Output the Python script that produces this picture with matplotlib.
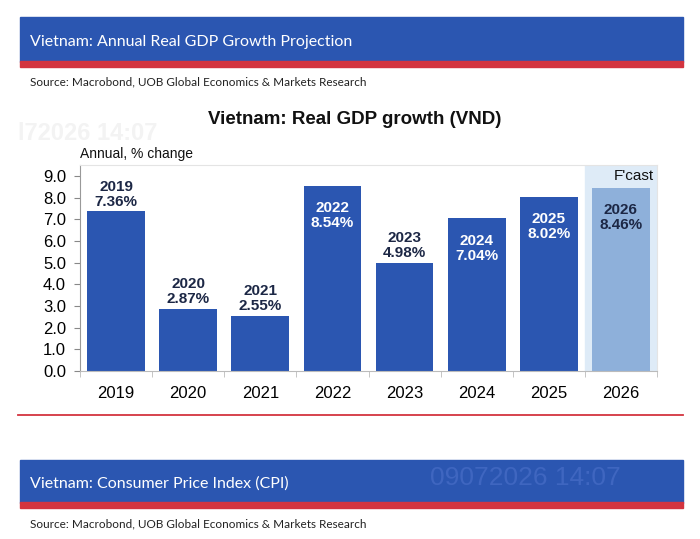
import numpy as np
import matplotlib.pyplot as plt
from matplotlib.patches import Rectangle

years = ["2019", "2020", "2021", "2022", "2023", "2024", "2025", "2026"]
growth = [7.36, 2.87, 2.55, 8.54, 4.98, 7.04, 8.02, 8.46]
label_inside = [False, False, False, True, False, True, True, True]
forecast = [False, False, False, False, False, False, False, True]

BLUE = "#2b56b1"
LIGHT = "#8eb0da"
BAND = "#deebf7"
NAVY = "#1c2745"
RED = "#d3343f"

plt.rcParams['font.family'] = ['Liberation Sans', 'DejaVu Sans']

fig = plt.figure(figsize=(7, 5.39), dpi=100)
fig.patch.set_facecolor("white")

# header banners
def banner(y0, y1, text):
    fig.add_artist(Rectangle((20/700, 1 - y1/539), 663/700, (y1 - y0)/539,
                             transform=fig.transFigure, color=BLUE, zorder=0))
    fig.add_artist(Rectangle((20/700, 1 - (y1 + 5)/539), 663/700, 6/539,
                             transform=fig.transFigure, color=RED, zorder=0))
    fig.text(30/700, 1 - (y0 + (y1 - y0) * 0.55)/539, text, color="white",
             fontsize=11.5, family="Lato", va="center", ha="left")

banner(17, 62, "Vietnam: Annual Real GDP Growth Projection")
fig.text(30/700, 1 - 82/539, "Source: Macrobond, UOB Global Economics & Markets Research",
         fontsize=8.5, family="Lato", color="#222222", va="center")

banner(460, 503, "Vietnam: Consumer Price Index (CPI)")
fig.text(30/700, 1 - 524/539, "Source: Macrobond, UOB Global Economics & Markets Research",
         fontsize=8.5, family="Lato", color="#222222", va="center")
# faint watermarks
fig.text(525/700, 1 - 478/539, "09072026 14:07", fontsize=19, color="#3f66c0",
         ha="center", va="center", zorder=1)
fig.text(18/700, 1 - 133/539, "l72026 14:07", fontsize=17, color="#f3f3f3",
         ha="left", va="center", weight="bold", zorder=0)

# red separator line
fig.add_artist(plt.Line2D([18/700, 683/700], [1 - 415/539, 1 - 415/539],
                          transform=fig.transFigure, color=RED, lw=1.3))

# chart
ax = fig.add_axes([80/700, 1 - 371/539, 577/700, 206/539])
ax.patch.set_alpha(0)
x = np.arange(len(years))
colors = [LIGHT if f else BLUE for f in forecast]
ax.axvspan(6.5, 7.5, color=BAND, zorder=0)
ax.bar(x, growth, width=0.8, color=colors, zorder=2)

for i, (yr, v) in enumerate(zip(years, growth)):
    txt = f"{yr}\n{v:.2f}%"
    if label_inside[i]:
        col = NAVY if forecast[i] else "white"
        ax.annotate(txt, (i, v), xytext=(0, -11), textcoords="offset points",
                    ha="center", va="top", fontsize=11, weight="bold",
                    color=col, linespacing=1.1, zorder=3)
    else:
        ax.annotate(txt, (i, v), xytext=(0, 2), textcoords="offset points",
                    ha="center", va="bottom", fontsize=11, weight="bold",
                    color=NAVY, linespacing=1.1, zorder=3)

ax.text(7.45, 9.3, "F'cast", ha="right", va="top", fontsize=11, color="#111111")

ax.set_xlim(-0.5, 7.5)
ax.set_ylim(0, 9.5)
ax.set_yticks(np.arange(0, 10, 1))
ax.set_yticklabels([f"{t:.1f}" for t in np.arange(0, 10, 1)], fontsize=12)
ax.set_xticks(x)
ax.set_xticklabels(years, fontsize=12)
ax.set_xticks(np.arange(-0.5, 8, 1), minor=True)
ax.tick_params(axis="x", which="major", length=0, pad=11)
ax.tick_params(axis="x", which="minor", length=4, color="#bbbbbb")
ax.tick_params(axis="y", length=4, color="#888888", pad=6)
for s in ["top", "right"]:
    ax.spines[s].set_color("#e4e4e4")
ax.spines["left"].set_color("#999999")
ax.spines["bottom"].set_color("#bbbbbb")

fig.text(355/700, 1 - 120/539, "Vietnam: Real GDP growth (VND)", ha="center",
         va="center", fontsize=13.5, weight="bold", color="#111111")
fig.text(80/700, 1 - 154/539, "Annual, % change", ha="left", va="center",
         fontsize=10, color="#111111")

fig.savefig("out.png", dpi=100)
